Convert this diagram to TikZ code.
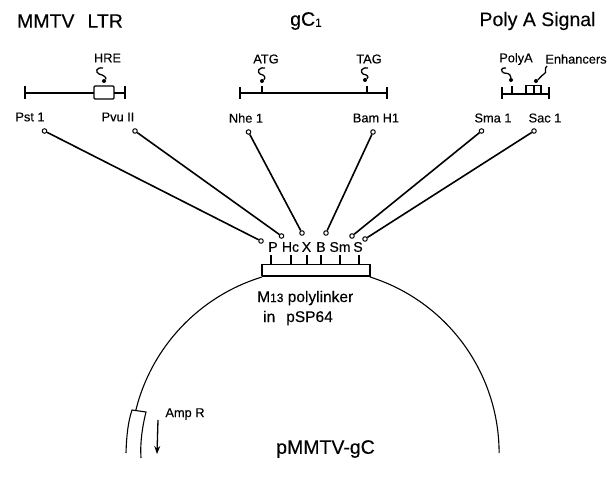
\documentclass[tikz,border=0pt]{standalone}
\usepackage{fontspec}
\setmainfont{Liberation Sans}
\newfontfamily\dia[FakeBold=0.25]{Liberation Sans}
\usetikzlibrary{arrows.meta}
\tikzset{
 x=1pt,y=-1pt,
 title/.style={inner sep=0pt,font=\dia\fontsize{19.5}{22}\selectfont,text=black},
 lab/.style={inner sep=0pt,font=\dia\fontsize{12.8}{15}\selectfont,text=black},
 site/.style={inner sep=0pt,font=\dia\fontsize{14}{16}\selectfont,text=black},
 cap2/.style={inner sep=0pt,font=\dia\fontsize{15.5}{18}\selectfont,text=black},
 ln/.style={draw=black,line width=1.3pt},
 thin line/.style={draw=black,line width=1.1pt},
 link/.style={draw=black,line width=1.6pt},
 pin/.style={circle,draw=black,line width=1pt,fill=white,inner sep=0pt,minimum size=4.5pt},
 dotn/.style={circle,fill=black,inner sep=0pt,minimum size=4pt},
}
\begin{document}
\begin{tikzpicture}
\useasboundingbox (0,0) rectangle (615,497);
% titles
\node[title] (t1) at (70,21) {MMTV\hspace{13pt}LTR};
\node[title] (t2) at (306,21) {gC\raisebox{-1pt}{\fontsize{12}{12}\selectfont 1}};
\node[title] (t3) at (537.5,21) {Poly A Signal};
% LTR map
\draw[ln] (25,86)--(25,99) (25,93)--(94,93) (114,93)--(125,93) (125,86)--(125,99);
\draw[ln,rounded corners=1pt] (94,86) rectangle (114,99);
\node[lab] (hre) at (107.5,58) {HRE};
\node[dotn] (d1) at (104,81) {};
\draw[ln] (103,68) .. controls (96,67) and (95,72) .. (99,74) .. controls (104,75) and (107,78) .. (d1);
% gC map
\draw[ln] (240,87)--(240,99) (240,93)--(387,93) (387,87)--(387,99) (262,86)--(262,93) (367,86)--(367,93);
\node[lab] (atg) at (266,59) {ATG};
\node[lab] (tag) at (369,59) {TAG};
\node[dotn] (d2) at (262,81) {};
\node[dotn] (d3) at (365,80) {};
\draw[ln] (265,68) .. controls (258,67) and (257,72) .. (260,74) .. controls (265,75) and (266,78) .. (d2);
\draw[ln] (368,68) .. controls (361,67) and (360,72) .. (363,74) .. controls (368,75) and (369,77) .. (d3);
% poly A map
\draw[ln] (502,87)--(502,99) (502,94)--(549,94) (549,87)--(549,99) (512,86)--(512,94);
\draw[ln] (526,94)--(526,85.5)--(541,85.5)--(541,94) (534,85.5)--(534,94);
\node[lab] (pa) at (516,59) {PolyA};
\node[lab] (enh) at (576,59) {Enhancers};
\node[dotn] (d4) at (511,80) {};
\node[dotn] (d5) at (536,81) {};
\draw[ln] (506,68) .. controls (500,67) and (501,72) .. (504,73) .. controls (510,73) and (511,76) .. (d4);
\draw[ln] (547,66) .. controls (543,69) and (548,72) .. (544,74) .. controls (541,76) and (539,79) .. (d5);
% site labels
\node[lab] (l1) at (30,117) {Pst 1};
\node[lab] (l2) at (118,117) {Pvu II};
\node[lab] (l3) at (246,118) {Nhe 1};
\node[lab] (l4) at (376,118) {Bam H1};
\node[lab] (l5) at (493,118) {Sma 1};
\node[lab] (l6) at (545,118) {Sac 1};
% pins
\node[pin] (a1) at (44.5,131) {};
\node[pin] (a2) at (135,131) {};
\node[pin] (a3) at (248.5,132) {};
\node[pin] (a4) at (373,132) {};
\node[pin] (a5) at (481.5,131) {};
\node[pin] (a6) at (534,131) {};
\node[pin] (b1) at (261,241) {};
\node[pin] (b2) at (281.5,236) {};
\node[pin] (b3) at (302,233) {};
\node[pin] (b4) at (326,233) {};
\node[pin] (b5) at (352,236) {};
\node[pin] (b6) at (365,239) {};
\draw[link] (a1)--(b1);
\draw[link] (a2)--(b2);
\draw[link] (a3)--(b3);
\draw[link] (a4)--(b4);
\draw[link] (a5)--(b5);
\draw[link] (a6)--(b6);
% polylinker
\node[site] (p) at (273,247) {P};
\node[site] (hc) at (290.5,247) {Hc};
\node[site] (xx) at (306.5,247) {X};
\node[site] (bb) at (321,247) {B};
\node[site] (sm) at (340,247) {Sm};
\node[site] (ss) at (358,247) {S};
\draw[ln] (271,255)--(271,264) (291,255)--(291,264) (307,255)--(307,264) (321,255)--(321,264) (340,255)--(340,264) (359,255)--(359,264);
\draw[ln] (262,276)--(262,264.5)--(370,264.5)--(370,276);
\draw[draw=black,line width=2.6pt] (261.5,276)--(370.5,276);
\node[cap2,anchor=west] (m13) at (257,298) {M{\fontsize{12}{12}\selectfont 13} polylinker};
\node[cap2,anchor=west] (in) at (263,318) {in\hspace{11pt}pSP64};
% plasmid circle
\draw[thin line] (262,277) arc[start angle=253,end angle=193.7,radius=186];
\draw[thin line] (370,277) arc[start angle=287.5,end angle=360,radius=184.6];
% Amp R segment
\draw[thin line] (126,453) .. controls (126.5,436) and (128,422) .. (132,410) -- (146,412) .. controls (142,428) and (140,444) .. (141,458);
\coordinate (arrs) at (158,420);
\coordinate (arre) at (157,454);
\draw[ln,-{Stealth[length=8pt,width=6pt]}] (arrs)--(arre);
\node[lab] (amp) at (185,414) {Amp R};
\node[title] (plasmid) at (325.5,449) {pMMTV-gC};
\end{tikzpicture}
\end{document}
